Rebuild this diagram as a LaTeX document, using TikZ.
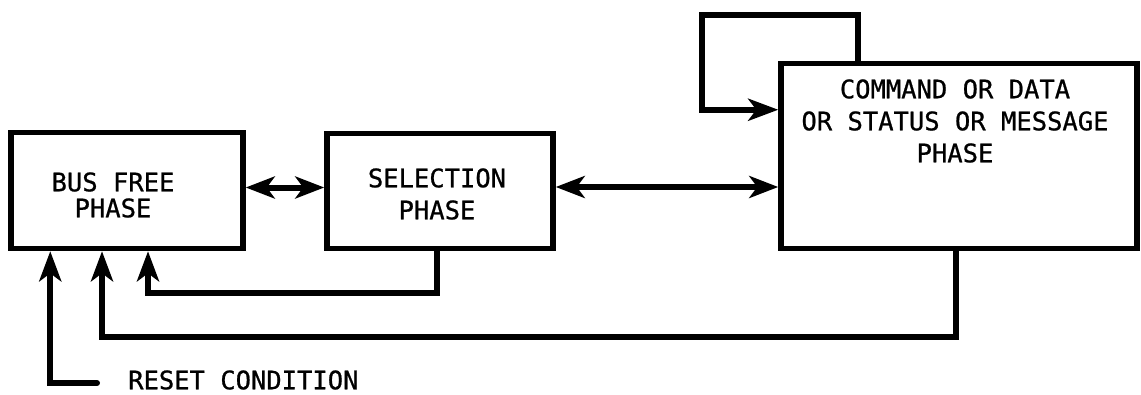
\documentclass[tikz,border=0pt]{standalone}
\usepackage{fontspec}
\newfontfamily\lettering[FakeBold=0.8]{DejaVu Sans Mono}
\usetikzlibrary{arrows.meta,calc}
\begin{document}
\begin{tikzpicture}[x=1pt,y=-1pt,
  box/.style={draw, line width=5.5pt, rectangle, inner sep=0pt},
  lbl/.style={font=\lettering\fontsize{25.5}{32}\selectfont, align=center, inner sep=0pt},
  conn/.style={line width=6pt},
  tip/.style={-{Stealth[length=30pt,width=22pt,inset=8pt]}},
  dtip/.style={{Stealth[length=29pt,width=22pt,inset=8pt]}-{Stealth[length=29pt,width=22pt,inset=8pt]}}
]
\fill[white] (0,0) rectangle (1141,394);
\useasboundingbox (0,0) rectangle (1141,394);

% boxes
\node[box, minimum width=232pt, minimum height=116pt] (bus) at (127,190.5) {};
\node[box, minimum width=226pt, minimum height=115pt] (sel) at (440,191) {};
\node[box, minimum width=356pt, minimum height=185pt] (cmd) at (959,156) {};

% texts
\node[lbl] (busT) at (113,195) {BUS FREE\\[-6pt]PHASE};
\node[lbl] (selT) at (437,194) {SELECTION\\PHASE};
\node[lbl] (cmdT) at (955,121) {COMMAND OR DATA\\OR STATUS OR MESSAGE\\PHASE};
\node[lbl, anchor=west] (rst) at (128,380) {RESET CONDITION};

% connectors
\draw[conn,dtip] ([yshift=3pt]bus.east) -- ([yshift=3pt]bus.east -| sel.west);
\draw[conn,dtip] ([yshift=4pt]sel.east) -- ([yshift=4pt]sel.east -| cmd.west);

\coordinate (loopTL) at (702,15);
\draw[conn,tip] ($(cmd.north west)+(80,0)$) |- (loopTL) |- ($(cmd.north west)+(0,49)$);

\coordinate (s1) at (148,293);
\draw[conn,tip] ($(sel.south west)+(113,0)$) |- (s1) -- (s1 |- bus.south);

\coordinate (c1) at (102,337);
\draw[conn,tip] ($(cmd.south west)+(178,0)$) |- (c1) -- (c1 |- bus.south);

\coordinate (r0) at (97,383);
\draw[conn,tip,line cap=round] (r0) -| ($(bus.south west)+(42,0)$);
\end{tikzpicture}
\end{document}
